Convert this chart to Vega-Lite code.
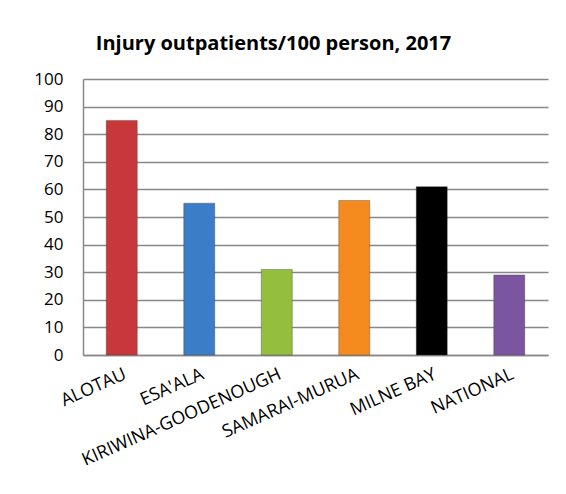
{
  "$schema": "https://vega.github.io/schema/vega-lite/v6.json",
  "width": 465,
  "height": 276,
  "autosize": {"type": "none"},
  "padding": {"left": 83, "top": 79, "right": 18, "bottom": 139},
  "background": "white",
  "title": {
    "text": "Injury outpatients/100 person, 2017",
    "font": "Open Sans",
    "fontSize": 20,
    "fontWeight": "bold",
    "color": "#000000",
    "anchor": "middle",
    "dx": -42,
    "offset": 16
  },
  "data": {
    "values": [
      {"region": "ALOTAU", "value": 85},
      {"region": "ESA'ALA", "value": 55},
      {"region": "KIRIWINA-GOODENOUGH", "value": 31},
      {"region": "SAMARAI-MURUA", "value": 56},
      {"region": "MILNE BAY", "value": 61},
      {"region": "NATIONAL", "value": 29}
    ]
  },
  "mark": {"type": "bar", "strokeWidth": 1, "strokeOpacity": 0.35, "stroke": "#333333"},
  "encoding": {
    "x": {
      "field": "region",
      "type": "nominal",
      "sort": null,
      "scale": {"paddingInner": 0.6, "paddingOuter": 0.3},
      "axis": {
        "title": null,
        "labelAngle": -24,
        "labelAlign": "right",
        "labelBaseline": "top",
        "labelFont": "Open Sans",
        "labelFontSize": 18,
        "labelColor": "#000000",
        "labelPadding": 10,
        "ticks": false,
        "domainColor": "#888888",
        "domainWidth": 1.5,
        "labelOverlap": false,
        "labelLimit": 300
      }
    },
    "y": {
      "field": "value",
      "type": "quantitative",
      "scale": {"domain": [0, 100]},
      "axis": {
        "title": null,
        "values": [0, 10, 20, 30, 40, 50, 60, 70, 80, 90, 100],
        "labelFont": "Open Sans",
        "labelFontSize": 17,
        "labelColor": "#000000",
        "labelPadding": 20,
        "ticks": false,
        "grid": true,
        "gridColor": "#888888",
        "gridWidth": 1.5,
        "domainColor": "#888888",
        "domainWidth": 1.5
      }
    },
    "color": {
      "field": "region",
      "type": "nominal",
      "sort": null,
      "legend": null,
      "scale": {
        "domain": ["ALOTAU", "ESA'ALA", "KIRIWINA-GOODENOUGH", "SAMARAI-MURUA", "MILNE BAY", "NATIONAL"],
        "range": ["#C8373A", "#3C7DC8", "#94BE3E", "#F58A1F", "#000000", "#7C55A0"]
      }
    }
  },
  "config": {"view": {"stroke": null}}
}
